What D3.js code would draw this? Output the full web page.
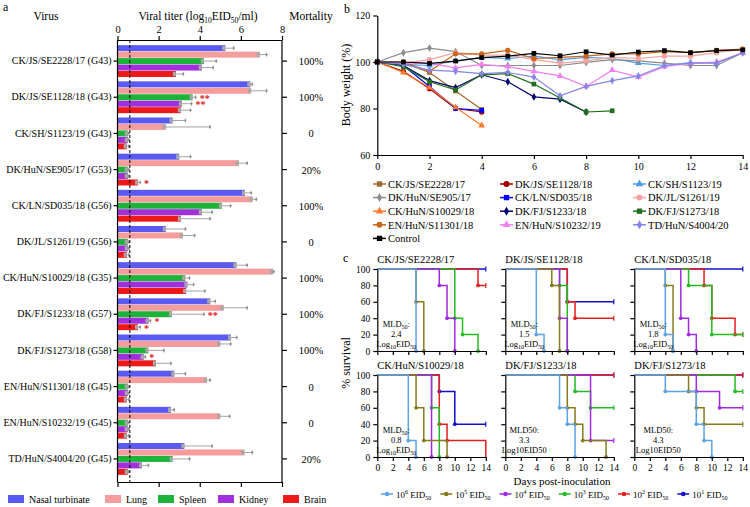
<!DOCTYPE html>
<html><head><meta charset="utf-8">
<script src="https://cdn.jsdelivr.net/npm/d3@7"></script>
<style>body{margin:0;background:#fff;} svg{font-family:"Liberation Serif","Times New Roman",serif;}</style>
</head><body><svg id="c" width="750" height="507"></svg>
<script>
// ---------------- Panel a data ----------------
const viruses = ["CK/JS/SE2228/17 (G43)","DK/JS/SE1128/18 (G43)","CK/SH/S1123/19 (G43)","DK/HuN/SE905/17 (G53)","CK/LN/SD035/18 (G56)","DK/JL/S1261/19 (G56)","CK/HuN/S10029/18 (G35)","DK/FJ/S1233/18 (G57)","DK/FJ/S1273/18 (G58)","EN/HuN/S11301/18 (G45)","EN/HuN/S10232/19 (G45)","TD/HuN/S4004/20 (G45)"];
const mortality = ["100%","100%","0","20%","100%","0","100%","100%","100%","0","0","20%"];
const organs = ["Nasal turbinate","Lung","Spleen","Kidney","Brain"];
const organColors = ["#5a5af2","#f59c9c","#1db33a","#a02fdc","#ee1a1a"];
const nasal  = [5.24,6.46,2.68,3.0,6.2,2.35,5.78,4.51,5.52,2.76,2.6,3.25];
const lung   = [6.92,6.5,2.35,5.9,6.57,3.18,7.56,5.16,5.0,4.35,5.0,6.17];
const spleen = [4.2,3.65,0.5,0.5,5.08,0.5,3.3,2.65,1.5,0.5,0.5,2.68];
const kidney = [4.1,3.13,0.5,0.5,4.1,0.5,3.4,1.51,1.27,0.5,0.5,1.19];
const brain  = [2.84,3.08,0.45,1.0,3.08,0.45,3.34,1.0,1.87,0.45,0.45,0.5];
const nasalErr  = [5.65,6.55,3.3,3.55,6.5,3.3,6.3,4.75,5.8,3.3,2.75,4.6];
const lungErr   = [7.25,7.25,4.5,6.3,6.75,3.75,7.6,6.3,5.5,4.5,5.45,6.55];
const spleenErr = [4.8,3.8,0.55,0.55,5.5,0.55,3.5,4.2,2.25,0.55,0.55,3.5];
const kidneyErr = [4.65,3.6,0.55,0.55,4.6,0.55,3.7,1.6,1.35,0.55,0.55,1.5];
const brainErr  = [3.2,3.55,0.55,1.1,4.5,0.55,4.25,1.1,2.6,0.55,0.55,0.55];
const titerTicks = [0,2,4,6,8];
const detectionLimit = 0.6;
const stars = [
  {v:1,o:"Spleen",m:"**"},{v:1,o:"Kidney",m:"**"},{v:3,o:"Brain",m:"*"},
  {v:7,o:"Spleen",m:"**"},{v:7,o:"Kidney",m:"*"},{v:7,o:"Brain",m:"*"},{v:8,o:"Kidney",m:"*"}
];

// ---------------- Panel b data ----------------
const strains = ["CK/JS/SE2228/17","DK/JS/SE1128/18","CK/SH/S1123/19","DK/HuN/SE905/17","CK/LN/SD035/18","DK/JL/S1261/19","CK/HuN/S10029/18","DK/FJ/S1233/18","DK/FJ/S1273/18","EN/HuN/S11301/18","EN/HuN/S10232/19","TD/HuN/S4004/20","Control"];
const strainColors = ["#9a6b2f","#a00000","#4f9be8","#8c8c8c","#0000ff","#f5a3a3","#ff7a2a","#000070","#1f6e1f","#c8661a","#f07ff0","#8585e6","#000000"];
const strainShapes = ["square","circle","triangle","diamond","square","circle","triangle","diamond","square","circle","triangle","diamond","square"];
const weights = [
  [100,99.7,95.5,87.5,79.6],
  [100,96,88.5,80,78.5],
  [100,99,98.5,100.5,102,101.5,102.5,101,102,101.5,99.5,98.5,99.7,99.7,104],
  [100,104,106,104.5,98.5,98.5,98.5,98.5,99.8,101,100.5,99.5,98.5,98.5,104],
  [100,98.5,89.5,80,79.2],
  [100,99.5,101,104,103,103,101,99.5,100.5,102,101.5,102.5,102.5,104,105.5],
  [100,95.5,89,80.5,72.7],
  [100,98.5,92,89,94.5,91.5,85,84,78.5],
  [100,98,91.5,88,94.5,95,90.5,84.5,78.5,79],
  [100,100,96,103.5,103.5,105,101.5,102,102.5,103.5,103.5,104.5,104,105,105.5],
  [100,99.5,99.5,97.5,99,98,96,94,89.5,96.5,93.5,98,99.5,100,104],
  [100,99,96.5,96,95,95.5,93.5,85.5,89.5,92,94,98.5,99.5,99.5,104],
  [100,100,99.4,100.4,101.9,102.5,103.7,102.7,104.4,103,104.3,104.9,104,104.9,105.2]
];
const weightTicks = [60,80,100,120];
const dayTicks = [0,2,4,6,8,10,12,14];

// ---------------- Panel c data ----------------
const doses = ["6","5","4","3","2","1"];
const doseColors = ["#5ca2e8","#857a1c","#a229e0","#22bb22","#e61e1e","#1010c8"];
const survTitles = ["CK/JS/SE2228/17","DK/JS/SE1128/18","CK/LN/SD035/18","CK/HuN/S10029/18","DK/FJ/S1233/18","DK/FJ/S1273/18"];
const mld = ["2.4","1.5","1.8","0.8","3.3","4.3"];
// drops: [day, % survival after]
const survival = [
  [[[5,0]],[[5,60],[6,0]],[[8,80],[9,40],[10,0]],[[10,40],[11,20],[13,0]],[[13,80]],[]],
  [[[4,20],[5,0]],[[6,80],[7,0]],[[7,40],[8,0]],[[7,80],[8,0]],[[8,60],[9,40]],[[8,60]]],
  [[[4,20],[5,0]],[[4,80],[5,0]],[[6,40],[7,20],[8,0]],[[7,80],[10,20]],[[9,80],[10,40],[13,20]],[]],
  [[[4,20],[5,0]],[[5,60],[6,20],[9,0]],[[7,0]],[[7,60],[8,0]],[[8,40],[9,20],[14,0]],[[8,80],[10,40]]],
  [[[7,60],[8,40],[9,0]],[[8,60],[9,40],[10,20],[13,0]],[[11,20]],[[9,80],[11,60]],[],[]],
  [[[4,80],[8,40],[9,20],[10,0]],[[7,80],[8,60],[9,40]],[[8,80],[11,60]],[[13,80]],[],[]]
];
const survTicks = [0,20,40,60,80,100];

// =====================================================
const svg = d3.select("#c");
const black = "#000";

// ---------------- Panel a ----------------
const xA = d3.scaleLinear().domain([0,8]).range([117.5,282]);
const yA = d3.scaleBand().domain(viruses).range([43,477]).paddingInner(0.12).paddingOuter(0.06);
const yO = d3.scaleBand().domain(organs).range([0,yA.bandwidth()]).paddingInner(0.07);
const values = [nasal,lung,spleen,kidney,brain];
const errs = [nasalErr,lungErr,spleenErr,kidneyErr,brainErr];
const gA = svg.append("g");

gA.append("text").attr("x",3).attr("y",11).attr("font-size",12).text("a");
gA.append("text").attr("x",46).attr("y",20).attr("text-anchor","middle").attr("font-size",11.5).text("Virus");
const tt = gA.append("text").attr("x",198).attr("y",20).attr("text-anchor","middle").attr("font-size",11.5);
tt.append("tspan").text("Viral titer (log");
tt.append("tspan").attr("font-size",7.5).attr("dy",3).text("10");
tt.append("tspan").attr("dy",-3).text("EID");
tt.append("tspan").attr("font-size",7.5).attr("dy",3).text("50");
tt.append("tspan").attr("dy",-3).text("/ml)");
gA.append("text").attr("x",311).attr("y",20).attr("text-anchor","middle").attr("font-size",11.5).text("Mortality");

viruses.forEach((v,i)=>{
  organs.forEach((o,j)=>{
    const y = yA(v)+yO(o), h = yO.bandwidth(), val = values[j][i], e = errs[j][i];
    gA.append("rect").attr("x",xA(0)).attr("y",y).attr("width",xA(val)-xA(0)).attr("height",h).attr("fill",organColors[j]);
    const cy = y+h/2;
    gA.append("line").attr("x1",xA(val)-3).attr("x2",xA(e)).attr("y1",cy).attr("y2",cy).attr("stroke","#9a9a9a").attr("stroke-width",0.9);
    gA.append("line").attr("x1",xA(e)).attr("x2",xA(e)).attr("y1",cy-2).attr("y2",cy+2).attr("stroke","#9a9a9a").attr("stroke-width",0.9);
    gA.append("rect").attr("x",xA(val)-3).attr("y",cy-2.2).attr("width",3).attr("height",4.4).attr("fill","#a8a8a8");
    gA.append("circle").attr("cx",xA(e)).attr("cy",cy).attr("r",1.1).attr("fill","#8a8a8a");
  });
});
stars.forEach(s=>{
  const j = organs.indexOf(s.o);
  const cy = yA(viruses[s.v])+yO(s.o)+yO.bandwidth()/2;
  gA.append("text").attr("x",xA(errs[j][s.v])+4).attr("y",cy+4.5).attr("font-size",10).attr("font-weight","bold").attr("fill","#e01010").text(s.m);
});
gA.append("line").attr("x1",xA(detectionLimit)).attr("x2",xA(detectionLimit)).attr("y1",40).attr("y2",482).attr("stroke",black).attr("stroke-width",1).attr("stroke-dasharray","3,2");

const axTop = gA.append("g").attr("transform","translate(0,40)").call(d3.axisTop(xA).tickValues(titerTicks).tickSize(4).tickSizeOuter(0));
const axBot = gA.append("g").attr("transform","translate(0,482)").call(d3.axisBottom(xA).tickValues(titerTicks).tickSize(5).tickSizeOuter(0).tickFormat(""));
const axL = gA.append("g").attr("transform",`translate(${xA(0)},0)`).call(d3.axisLeft(yA).tickSize(4).tickSizeOuter(0).tickPadding(2));
axL.select(".domain").attr("d",`M0,40V482`);
const axR = gA.append("g").attr("transform",`translate(${xA(8)},0)`).call(d3.axisRight(yA).tickSize(5).tickSizeOuter(0).tickFormat(""));
axR.select(".domain").attr("d",`M0,40V482`);
[axTop,axBot,axL,axR].forEach(a=>{
  a.selectAll("path,line").attr("stroke",black).attr("stroke-width",1.2);
  a.selectAll("text").attr("font-family","Liberation Serif").attr("fill",black);
});
axTop.selectAll("text").attr("font-size",10.5);
axL.selectAll("text").attr("font-size",10);
viruses.forEach((v,i)=>{
  gA.append("text").attr("x",311).attr("y",yA(v)+yA.bandwidth()/2+4).attr("text-anchor","middle").attr("font-size",10.5).text(mortality[i]);
});
// legend a
const legAx = [8,105,158,218,283];
organs.forEach((o,j)=>{
  gA.append("rect").attr("x",legAx[j]).attr("y",495).attr("width",16).attr("height",8).attr("fill",organColors[j]);
  gA.append("text").attr("x",legAx[j]+21).attr("y",503).attr("font-size",10).text(o);
});

// ---------------- Panel b ----------------
const xB = d3.scaleLinear().domain([0,14]).range([377.3,742.7]);
const yB = d3.scaleLinear().domain([60,120]).range([155,15.5]);
const gB = svg.append("g");
gB.append("text").attr("x",344).attr("y",13).attr("font-size",12).text("b");
gB.append("text").attr("transform",`translate(350,85) rotate(-90)`).attr("text-anchor","middle").attr("font-size",12).text("Body weight (%)");
function marker(g,shape,x,y,color,s){
  const sym = {square:d3.symbolSquare,circle:d3.symbolCircle,triangle:d3.symbolTriangle,diamond:d3.symbolDiamond}[shape];
  const size = {square:22,circle:22,triangle:20,diamond:18}[shape];
  g.append("path").attr("d",d3.symbol(sym,size*(s||1))).attr("transform",`translate(${x},${y})`).attr("fill",color);
}
const lineB = d3.line().x((d,i)=>xB(i)).y(d=>yB(d));
weights.forEach((w,k)=>{
  gB.append("path").attr("d",lineB(w)).attr("fill","none").attr("stroke",strainColors[k]).attr("stroke-width",1.2);
  w.forEach((d,i)=>marker(gB,strainShapes[k],xB(i),yB(d),strainColors[k]));
});
const axBL = gB.append("g").attr("transform",`translate(${xB(0)},0)`).call(d3.axisLeft(yB).tickValues(weightTicks).tickSize(4).tickSizeOuter(0));
const axBB = gB.append("g").attr("transform",`translate(0,${yB(60)})`).call(d3.axisBottom(xB).tickValues(dayTicks).tickSize(4).tickSizeOuter(0).tickPadding(4));
[axBL,axBB].forEach(a=>{
  a.selectAll("path,line").attr("stroke",black).attr("stroke-width",1.2);
  a.selectAll("text").attr("font-family","Liberation Serif").attr("font-size",10).attr("fill",black);
});
// legend b
const legBx = [373,500,633];
strains.forEach((s,k)=>{
  const col = k%3, row = Math.floor(k/3);
  const x = legBx[col], y = 184+row*13.6;
  gB.append("line").attr("x1",x).attr("x2",x+13).attr("y1",y).attr("y2",y).attr("stroke",strainColors[k]).attr("stroke-width",1.5);
  marker(gB,strainShapes[k],x+6.5,y,strainColors[k],1.3);
  gB.append("text").attr("x",x+15).attr("y",y+3.8).attr("font-size",10.5).text(s);
});

// ---------------- Panel c ----------------
const gC = svg.append("g");
gC.append("text").attr("x",343).attr("y",262).attr("font-size",12).text("c");
gC.append("text").attr("transform",`translate(350,363) rotate(-90)`).attr("text-anchor","middle").attr("font-size",12).text("% survival");
const colX = [377.3,505.3,634.3], rowY = [[269,351],[375,457]], pw = 108.5;
survival.forEach((plot,p)=>{
  const col = p%3, row = Math.floor(p/3);
  const x = d3.scaleLinear().domain([0,14]).range([colX[col],colX[col]+pw]);
  const y = d3.scaleLinear().domain([0,100]).range([rowY[row][1],rowY[row][0]]);
  const g = gC.append("g");
  g.append("text").attr("x",colX[col]).attr("y",rowY[row][0]-6).attr("font-size",10.5).text(survTitles[p]);
  // draw from 10^1 to 10^6 so higher doses lie on top
  for(let di=doses.length-1; di>=0; di--){
    const drops = plot[di];
    const pts = [[0,100]]; let cur = 100;
    drops.forEach(([d,v])=>{ pts.push([d,cur]); pts.push([d,v]); cur = v; });
    if(cur>0) pts.push([14,cur]);
    g.append("path").attr("d",d3.line().x(d=>x(d[0])).y(d=>y(d[1]))(pts)).attr("fill","none").attr("stroke",doseColors[di]).attr("stroke-width",1.5);
    drops.forEach(([d,v])=>{ if(d!==14) g.append("circle").attr("cx",x(d)).attr("cy",y(v)).attr("r",1.9).attr("fill",doseColors[di]); });
    if(cur>0){
      g.append("line").attr("x1",x(14)).attr("x2",x(14)).attr("y1",y(cur)-2.5).attr("y2",y(cur)+2.5).attr("stroke",doseColors[di]).attr("stroke-width",1.2);
    }
  }
  const ax = g.append("g").attr("transform",`translate(${colX[col]},0)`).call(d3.axisLeft(y).tickValues(survTicks).tickSize(4).tickSizeOuter(0).tickFormat(col===0?d3.format("d"):""));
  const bx = g.append("g").attr("transform",`translate(0,${rowY[row][1]})`).call(d3.axisBottom(x).tickValues(dayTicks).tickSize(4).tickSizeOuter(0).tickPadding(3).tickFormat(row===1?d3.format("d"):""));
  [ax,bx].forEach(a=>{
    a.selectAll("path,line").attr("stroke",black).attr("stroke-width",1.2);
    a.selectAll("text").attr("font-family","Liberation Serif").attr("font-size",9.5).attr("fill",black);
  });
  // MLD text
  const cx = colX[col] + (p===5?24:19), by = rowY[row][0];
  if(p<4){
    const t1 = g.append("text").attr("x",cx).attr("y",by+58).attr("text-anchor","middle").attr("font-size",8.5);
    t1.append("tspan").text("MLD"); t1.append("tspan").attr("font-size",6).attr("dy",2).text("50"); t1.append("tspan").attr("dy",-2).text(":");
    g.append("text").attr("x",cx).attr("y",by+68).attr("text-anchor","middle").attr("font-size",8.5).text(mld[p]);
    const t3 = g.append("text").attr("x",cx).attr("y",by+78).attr("text-anchor","middle").attr("font-size",8.5);
    t3.append("tspan").text("Log"); t3.append("tspan").attr("font-size",6).attr("dy",2).text("10"); t3.append("tspan").attr("dy",-2).text("EID"); t3.append("tspan").attr("font-size",6).attr("dy",2).text("50");
  } else {
    g.append("text").attr("x",cx).attr("y",by+58).attr("text-anchor","middle").attr("font-size",8.5).text("MLD50:");
    g.append("text").attr("x",cx).attr("y",by+68).attr("text-anchor","middle").attr("font-size",8.5).text(mld[p]);
    g.append("text").attr("x",cx).attr("y",by+78).attr("text-anchor","middle").attr("font-size",8.5).text("Log10EID50");
  }
});
gC.append("text").attr("x",562).attr("y",485).attr("text-anchor","middle").attr("font-size",11).text("Days post-inoculation");
// legend c
let lx = 381;
doses.forEach((d,i)=>{
  gC.append("line").attr("x1",lx).attr("x2",lx+12).attr("y1",494).attr("y2",494).attr("stroke",doseColors[i]).attr("stroke-width",1.5);
  gC.append("circle").attr("cx",lx+6).attr("cy",494).attr("r",2.3).attr("fill",doseColors[i]);
  const t = gC.append("text").attr("x",lx+15).attr("y",497.5).attr("font-size",9);
  t.append("tspan").text("10"); t.append("tspan").attr("font-size",6).attr("dy",-3.5).text(d);
  t.append("tspan").attr("dy",3.5).text(" EID"); t.append("tspan").attr("font-size",6).attr("dy",2).text("50");
  lx += 15 + t.node().getComputedTextLength() + 9;
});
</script></body></html>
